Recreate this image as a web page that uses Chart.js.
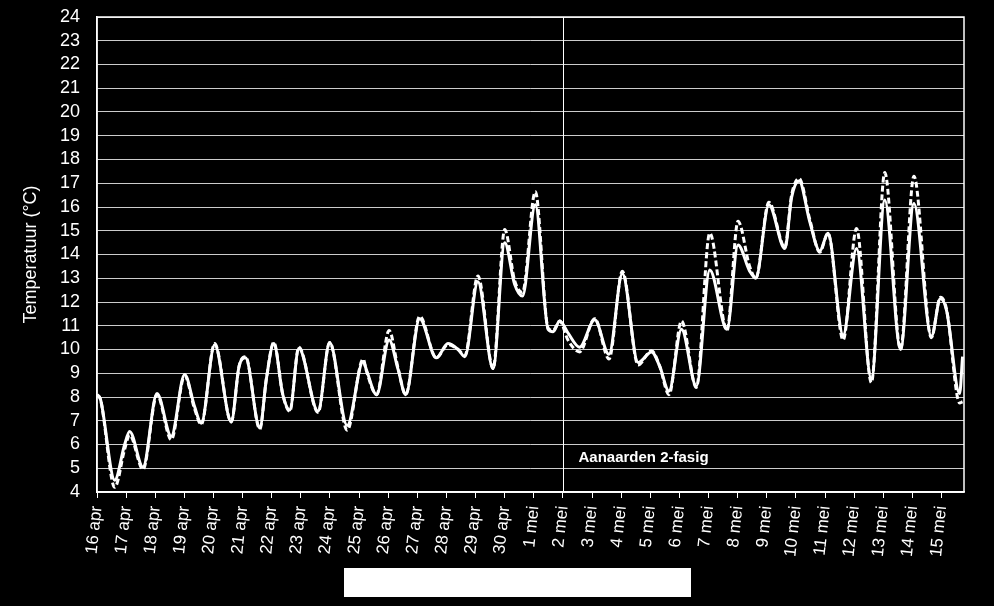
<!DOCTYPE html>
<html>
<head>
<meta charset="utf-8">
<style>
  html, body { margin: 0; padding: 0; background: #000; }
  #wrap { width: 994px; height: 606px; }
</style>
<script src="https://cdn.jsdelivr.net/npm/chart.js@4/dist/chart.umd.min.js"></script>
</head>
<body>
<div id="wrap"><canvas id="tempChart" width="994" height="606"></canvas></div>
<script>
// Day labels on the x axis (one tick per day, 16 apr .. 15 mei)
const dayLabels = [
    '16 apr', '17 apr', '18 apr', '19 apr', '20 apr', '21 apr', '22 apr', '23 apr',
    '24 apr', '25 apr', '26 apr', '27 apr', '28 apr', '29 apr', '30 apr',
    '1 mei', '2 mei', '3 mei', '4 mei', '5 mei', '6 mei', '7 mei', '8 mei',
    '9 mei', '10 mei', '11 mei', '12 mei', '13 mei', '14 mei', '15 mei'
];

// Time in days since 16 apr 00:00
const dayTimes = [
    0.00, 0.12, 0.61, 0.95, 1.12, 1.58, 2.06, 2.55, 3.01, 3.35, 3.58, 4.04,
    4.61, 4.88, 5.10, 5.59, 5.82, 6.07, 6.38, 6.62, 6.93, 7.59, 7.99, 8.59,
    9.14, 9.25, 9.60, 10.03, 10.34, 10.60, 11.08, 11.65, 12.05, 12.40, 12.63, 13.08,
    13.60, 14.00, 14.34, 14.61, 15.05, 15.49, 15.66, 15.89, 16.17, 16.57, 17.09, 17.58,
    18.04, 18.58, 19.04, 19.32, 19.64, 20.07, 20.58, 21.04, 21.63, 22.01, 22.41, 22.62,
    23.07, 23.62, 23.85, 24.11, 24.47, 24.82, 25.10, 25.62, 26.08, 26.59, 27.05, 27.59,
    28.05, 28.65, 28.96, 29.17, 29.62, 29.72
];

// Solid series (°C)
const tempSolid = [
    8.1, 7.9, 4.5, 6.0, 6.55, 5.05, 8.15, 6.35, 8.95, 7.6, 6.9, 10.2,
    6.95, 9.3, 9.65, 6.7, 8.8, 10.25, 8.1, 7.45, 10.05, 7.4, 10.3, 6.8,
    9.5, 9.15, 8.1, 10.4, 9.15, 8.1, 11.3, 9.65, 10.25, 10.0, 9.7, 12.85,
    9.2, 14.5, 12.75, 12.25, 16.1, 10.85, 10.75, 11.2, 10.7, 10.1, 11.25, 9.8,
    13.2, 9.45, 9.9, 9.3, 8.25, 10.85, 8.45, 13.35, 10.85, 14.4, 13.3, 13.0,
    16.1, 14.25, 16.4, 17.1, 15.4, 14.15, 14.9, 10.6, 14.25, 8.75, 16.3, 10.0,
    16.15, 10.55, 12.15, 11.65, 8.15, 9.7
];

// Dashed series (°C)
const tempDashed = [
    8.1, 7.9, 4.2, 5.8, 6.4, 4.95, 8.1, 6.2, 8.9, 7.5, 6.85, 10.25,
    6.95, 9.3, 9.7, 6.65, 8.8, 10.3, 8.1, 7.4, 10.1, 7.35, 10.3, 6.6,
    9.6, 9.1, 8.1, 10.8, 9.2, 8.1, 11.4, 9.65, 10.2, 10.0, 9.75, 13.1,
    9.2, 15.05, 12.9, 12.4, 16.65, 10.9, 10.8, 11.2, 10.4, 9.9, 11.3, 9.6,
    13.3, 9.35, 9.95, 9.3, 8.1, 11.2, 8.4, 14.9, 10.8, 15.4, 13.5, 13.0,
    16.2, 14.3, 16.5, 17.2, 15.5, 14.1, 14.9, 10.4, 15.1, 8.6, 17.45, 10.0,
    17.3, 10.5, 12.2, 11.7, 7.75, 7.8
];

// Event marker
const eventDay = 16;
const eventLabel = 'Aanaarden 2-fasig';

const fontFamily = '"Liberation Sans", Arial, sans-serif';

const toPoints = (values) => dayTimes.map((t, i) => ({ x: t, y: values[i] }));

// Frame, event line and the blank box below the axis
const decorPlugin = {
    id: 'decor',
    afterDraw(chart) {
        const { ctx, chartArea, scales } = chart;
        ctx.save();
        ctx.strokeStyle = '#ffffff';
        ctx.lineWidth = 1.5;
        ctx.strokeRect(chartArea.left, chartArea.top,
            chartArea.right - chartArea.left, chartArea.bottom - chartArea.top);

        const ex = Math.round(scales.x.getPixelForValue(eventDay)) + 0.5;
        ctx.lineWidth = 1;
        ctx.beginPath();
        ctx.moveTo(ex, chartArea.top);
        ctx.lineTo(ex, chartArea.bottom);
        ctx.stroke();

        ctx.fillStyle = '#ffffff';
        ctx.font = 'bold 15px ' + fontFamily;
        ctx.textAlign = 'left';
        ctx.textBaseline = 'middle';
        ctx.fillText(eventLabel, ex + 15, scales.y.getPixelForValue(5.45));

        ctx.fillRect(344, 568, 347, 29);
        ctx.restore();
    }
};

new Chart(document.getElementById('tempChart'), {
    type: 'line',
    data: {
        datasets: [
            {
                label: 'gestippeld',
                data: toPoints(tempDashed),
                borderColor: '#ffffff',
                borderWidth: 3,
                borderDash: [6, 3],
                pointRadius: 0,
                cubicInterpolationMode: 'monotone',
                fill: false
            },
            {
                label: 'doorgetrokken',
                data: toPoints(tempSolid),
                borderColor: '#ffffff',
                borderWidth: 3,
                pointRadius: 0,
                cubicInterpolationMode: 'monotone',
                fill: false
            }
        ]
    },
    options: {
        responsive: false,
        animation: false,
        layout: { padding: { top: 17, right: 30, left: 0, bottom: 0 } },
        plugins: {
            legend: { display: false },
            tooltip: { enabled: false }
        },
        scales: {
            x: {
                type: 'linear',
                min: 0,
                max: 29.77,
                afterBuildTicks: (scale) => {
                    scale.ticks = dayLabels.map((_, i) => ({ value: i }));
                },
                afterFit: (scale) => { scale.height = 114; },
                ticks: {
                    autoSkip: false,
                    minRotation: 84,
                    maxRotation: 84,
                    padding: 7,
                    color: '#ffffff',
                    font: { family: fontFamily, size: 17 },
                    callback: (value) => dayLabels[value]
                },
                grid: {
                    drawOnChartArea: false,
                    drawTicks: true,
                    tickLength: 6,
                    color: '#ffffff'
                },
                border: { color: '#ffffff', width: 1.5 }
            },
            y: {
                min: 4,
                max: 24,
                afterFit: (scale) => { scale.width = 97; },
                ticks: {
                    stepSize: 1,
                    autoSkip: false,
                    padding: 3,
                    color: '#ffffff',
                    font: { family: fontFamily, size: 18 }
                },
                grid: {
                    drawTicks: true,
                    tickLength: 14,
                    tickColor: 'rgba(0, 0, 0, 0)',
                    color: 'rgba(255, 255, 255, 0.8)',
                    lineWidth: 1
                },
                border: { color: '#ffffff', width: 1.5 },
                title: {
                    display: true,
                    text: 'Temperatuur (°C)',
                    color: '#ffffff',
                    font: { family: fontFamily, size: 18 },
                    padding: { top: 20, bottom: 0 }
                }
            }
        }
    },
    plugins: [decorPlugin]
});
</script>
</body>
</html>
